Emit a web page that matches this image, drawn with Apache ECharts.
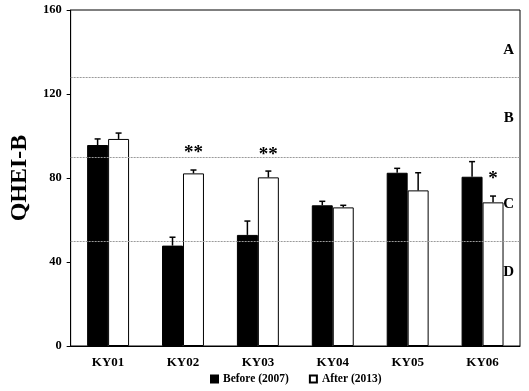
<!DOCTYPE html>
<html><head><meta charset="utf-8">
<script src="https://cdn.jsdelivr.net/npm/echarts@6/dist/echarts.min.js"></script>
<style>html,body{margin:0;padding:0;background:#fff}#c{width:529px;height:391px}</style>
</head><body><div id="c"></div>
<script>
const categories = ['KY01','KY02','KY03','KY04','KY05','KY06'];
const beforeVals = [95.7, 47.8, 52.9, 67.0, 82.5, 80.6];
const beforeErr  = [98.6, 51.8, 59.5, 68.9, 84.6, 87.8];
const afterVals  = [98.6, 82.2, 80.3, 66.0, 74.1, 68.4];
const afterErr   = [101.4, 83.8, 83.3, 67.0, 82.5, 71.4];
const classLines = [128, 90, 50];
const classLabels = [['A', 141], ['B', 108.5], ['C', 67.5], ['D', 35]];
const stars = [[1, 92, '**'], [2, 91, '**'], [5, 79.5, '*']];
const yTicks = [0, 40, 80, 120, 160];

const FONT = '"Liberation Serif", "Times New Roman", serif';
const BARFRAC = 0.28;

function errRender(side) {
  return function (params, api) {
    const idx = api.value(0);
    const top = api.coord([idx, api.value(2)]);
    const base = api.coord([idx, api.value(1)]);
    const band = api.size([1, 0])[0];
    const x = top[0] + side * band * BARFRAC / 2;
    const cap = 3;
    return {
      type: 'group',
      children: [
        { type: 'line', shape: { x1: x, y1: base[1], x2: x, y2: top[1] }, style: { stroke: '#000', lineWidth: 1.5 } },
        { type: 'line', shape: { x1: x - cap, y1: top[1], x2: x + cap, y2: top[1] }, style: { stroke: '#000', lineWidth: 1.5 } }
      ]
    };
  };
}

const chart = echarts.init(document.getElementById('c'));
chart.setOption({
  animation: false,
  backgroundColor: '#fff',
  grid: { left: 70, right: 9, top: 10, bottom: 45, show: true, borderColor: '#000', borderWidth: 1 },
  legend: {
    left: 205, top: 368, itemWidth: 7, itemHeight: 7, itemGap: 20,
    data: [{ name: 'Before (2007)', icon: 'rect' }, { name: 'After (2013)', icon: 'rect' }],
    textStyle: { fontFamily: FONT, fontWeight: 'bold', fontSize: 11.5, color: '#000' }
  },
  xAxis: {
    type: 'category', data: categories,
    axisLine: { lineStyle: { color: '#000', width: 1 } },
    axisTick: { alignWithLabel: true, length: 4, lineStyle: { color: '#000' } },
    axisLabel: { fontFamily: FONT, fontWeight: 'bold', fontSize: 13, color: '#000', margin: 10 }
  },
  yAxis: {
    type: 'value', min: yTicks[0], max: yTicks[yTicks.length - 1], interval: 40,
    name: 'QHEI-B', nameLocation: 'middle', nameGap: 31,
    nameTextStyle: { fontFamily: FONT, fontWeight: 'bold', fontSize: 24, color: '#000' },
    axisLine: { show: true, lineStyle: { color: '#000', width: 1 } },
    axisTick: { show: true, length: 4, lineStyle: { color: '#000' } },
    splitLine: { show: false },
    axisLabel: { fontFamily: FONT, fontWeight: 'bold', fontSize: 12.5, color: '#000', margin: 9 }
  },
  series: [
    {
      name: 'Before (2007)', type: 'bar', data: beforeVals, barWidth: (BARFRAC * 100) + '%', barGap: '0%',
      itemStyle: { color: '#000', borderColor: '#000', borderWidth: 1 },
      markLine: {
        silent: true, symbol: 'none', label: { show: false },
        lineStyle: { color: '#9a9a9a', type: [2, 1], width: 1 },
        data: classLines.map(v => ({ yAxis: v }))
      }
    },
    {
      name: 'After (2013)', type: 'bar', data: afterVals, barWidth: (BARFRAC * 100) + '%', barGap: '0%',
      itemStyle: { color: '#fff', borderColor: '#000', borderWidth: 1 }
    },
    {
      type: 'custom', renderItem: errRender(-1), z: 5,
      data: beforeVals.map((v, i) => [i, v, beforeErr[i]])
    },
    {
      type: 'custom', renderItem: errRender(1), z: 5,
      data: afterVals.map((v, i) => [i, v, afterErr[i]])
    },
    {
      type: 'custom', z: 6,
      renderItem: function (params, api) {
        const p = api.coord([api.value(0), api.value(1)]);
        const band = api.size([1, 0])[0];
        return { type: 'text', x: p[0] + band * BARFRAC / 2, y: p[1],
          style: { text: stars[params.dataIndex][2], font: 'bold 19px ' + FONT, fill: '#000', align: 'center', verticalAlign: 'middle' } };
      },
      data: stars.map(s => [s[0], s[1]])
    },
    {
      type: 'custom', z: 6,
      renderItem: function (params, api) {
        const p = api.coord([categories.length - 1, api.value(0)]);
        const band = api.size([1, 0])[0];
        return { type: 'text', x: p[0] + band * 0.35, y: p[1],
          style: { text: classLabels[params.dataIndex][0], font: 'bold 15px ' + FONT, fill: '#000', align: 'center', verticalAlign: 'middle' } };
      },
      data: classLabels.map(c => [c[1]])
    }
  ]
});
</script></body></html>
